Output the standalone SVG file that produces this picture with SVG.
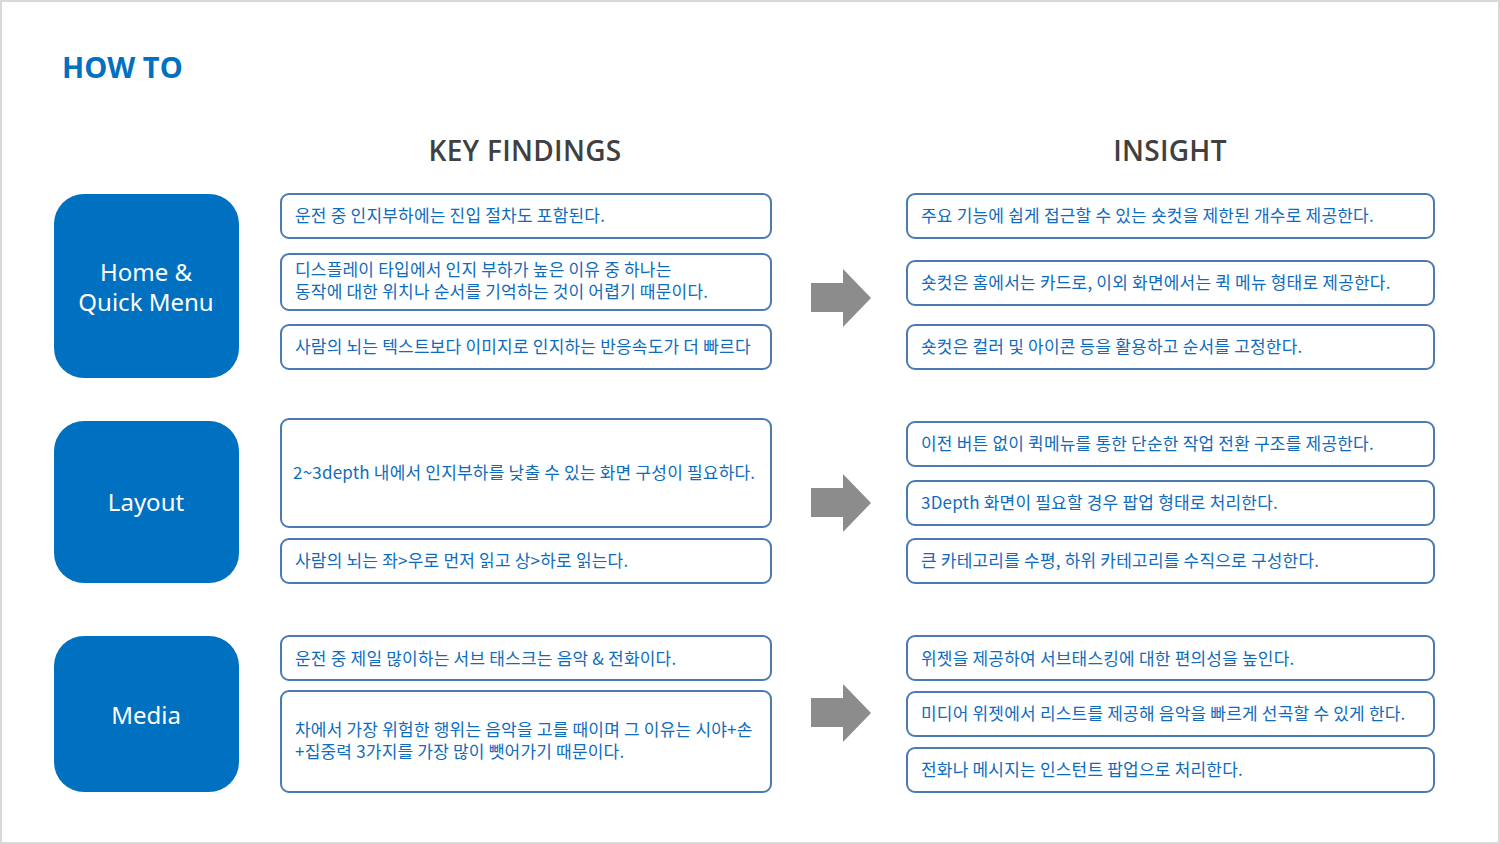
<svg xmlns="http://www.w3.org/2000/svg" width="1500" height="844" viewBox="0 0 1500 844">
<defs>
<style>
.bg{fill:#ffffff;stroke:#d9d9d9;stroke-width:2}
.title{font-family:"Open Sans","Noto Sans","Noto Sans CJK KR",sans-serif;font-weight:bold;font-size:29px;fill:#0070c0}
.head{font-family:"Open Sans","Noto Sans","Noto Sans CJK KR",sans-serif;font-weight:600;font-size:28px;fill:#404040;text-anchor:middle;letter-spacing:0.3px}
.cat{fill:#0070c0}
.catt{font-family:"Noto Sans","Open Sans","Noto Sans CJK KR",sans-serif;font-size:24px;fill:#ffffff;text-anchor:middle}
.box{fill:#ffffff;stroke:#4a7ab0;stroke-width:2}
.t{font-family:"Noto Sans CJK KR","Noto Sans",sans-serif;font-size:17px;fill:#0f6cbd;letter-spacing:0.2px}
.arr{fill:#8c8c8c}
</style>
</defs>
<rect class="bg" x="1" y="1" width="1498" height="842"/>
<text class="title" x="62" y="78">HOW TO</text>
<text class="head" x="525" y="161">KEY FINDINGS</text>
<text class="head" x="1170" y="161">INSIGHT</text>

<g id="cat-home"><rect class="cat" x="54" y="194" width="185" height="184" rx="30"/><text class="catt" x="146" y="281">Home &amp;</text><text class="catt" x="146" y="311">Quick Menu</text></g>
<g id="cat-layout"><rect class="cat" x="54" y="421" width="185" height="162" rx="30"/><text class="catt" x="146" y="511">Layout</text></g>
<g id="cat-media"><rect class="cat" x="54" y="636" width="185" height="156" rx="30"/><text class="catt" x="146" y="724">Media</text></g>

<g id="kf-1-1"><rect class="box" x="281" y="194" width="490" height="44" rx="8"/><text class="t" x="295" y="222">운전 중 인지부하에는 진입 절차도 포함된다.</text></g>
<g id="kf-1-2"><rect class="box" x="281" y="254" width="490" height="56" rx="8"/><text class="t" x="295" y="276">디스플레이 타입에서 인지 부하가 높은 이유 중 하나는</text><text class="t" x="295" y="298">동작에 대한 위치나 순서를 기억하는 것이 어렵기 때문이다.</text></g>
<g id="kf-1-3"><rect class="box" x="281" y="325" width="490" height="44" rx="8"/><text class="t" x="295" y="353">사람의 뇌는 텍스트보다 이미지로 인지하는 반응속도가 더 빠르다</text></g>

<g id="kf-2-1"><rect class="box" x="281" y="419" width="490" height="108" rx="8"/><text class="t" x="293" y="479">2~3depth 내에서 인지부하를 낮출 수 있는 화면 구성이 필요하다.</text></g>
<g id="kf-2-2"><rect class="box" x="281" y="539" width="490" height="44" rx="8"/><text class="t" x="295" y="567">사람의 뇌는 좌&gt;우로 먼저 읽고 상&gt;하로 읽는다.</text></g>

<g id="kf-3-1"><rect class="box" x="281" y="636" width="490" height="44" rx="8"/><text class="t" x="295" y="665">운전 중 제일 많이하는 서브 태스크는 음악 &amp; 전화이다.</text></g>
<g id="kf-3-2"><rect class="box" x="281" y="691" width="490" height="101" rx="8"/><text class="t" x="295" y="736">차에서 가장 위험한 행위는 음악을 고를 때이며 그 이유는 시야+손</text><text class="t" x="295" y="758">+집중력 3가지를 가장 많이 뺏어가기 때문이다.</text></g>

<g id="in-1-1"><rect class="box" x="907" y="194" width="527" height="44" rx="8"/><text class="t" x="921" y="222">주요 기능에 쉽게 접근할 수 있는 숏컷을 제한된 개수로 제공한다.</text></g>
<g id="in-1-2"><rect class="box" x="907" y="261" width="527" height="44" rx="8"/><text class="t" x="921" y="289">숏컷은 홈에서는 카드로, 이외 화면에서는 퀵 메뉴 형태로 제공한다.</text></g>
<g id="in-1-3"><rect class="box" x="907" y="325" width="527" height="44" rx="8"/><text class="t" x="921" y="353">숏컷은 컬러 및 아이콘 등을 활용하고 순서를 고정한다.</text></g>

<g id="in-2-1"><rect class="box" x="907" y="422" width="527" height="44" rx="8"/><text class="t" x="921" y="450">이전 버튼 없이 퀵메뉴를 통한 단순한 작업 전환 구조를 제공한다.</text></g>
<g id="in-2-2"><rect class="box" x="907" y="481" width="527" height="44" rx="8"/><text class="t" x="921" y="509">3Depth 화면이 필요할 경우 팝업 형태로 처리한다.</text></g>
<g id="in-2-3"><rect class="box" x="907" y="539" width="527" height="44" rx="8"/><text class="t" x="921" y="567">큰 카테고리를 수평, 하위 카테고리를 수직으로 구성한다.</text></g>

<g id="in-3-1"><rect class="box" x="907" y="636" width="527" height="44" rx="8"/><text class="t" x="921" y="665">위젯을 제공하여 서브태스킹에 대한 편의성을 높인다.</text></g>
<g id="in-3-2"><rect class="box" x="907" y="692" width="527" height="44" rx="8"/><text class="t" x="921" y="720">미디어 위젯에서 리스트를 제공해 음악을 빠르게 선곡할 수 있게 한다.</text></g>
<g id="in-3-3"><rect class="box" x="907" y="748" width="527" height="44" rx="8"/><text class="t" x="921" y="776">전화나 메시지는 인스턴트 팝업으로 처리한다.</text></g>

<g id="connectors">
<polygon class="arr" points="811,283 843,283 843,269 871,298 843,327 843,312 811,312"/>
<polygon class="arr" points="811,488 843,488 843,474 871,503 843,532 843,517 811,517"/>
<polygon class="arr" points="811,698 843,698 843,684 871,713 843,742 843,727 811,727"/>
</g>
</svg>
